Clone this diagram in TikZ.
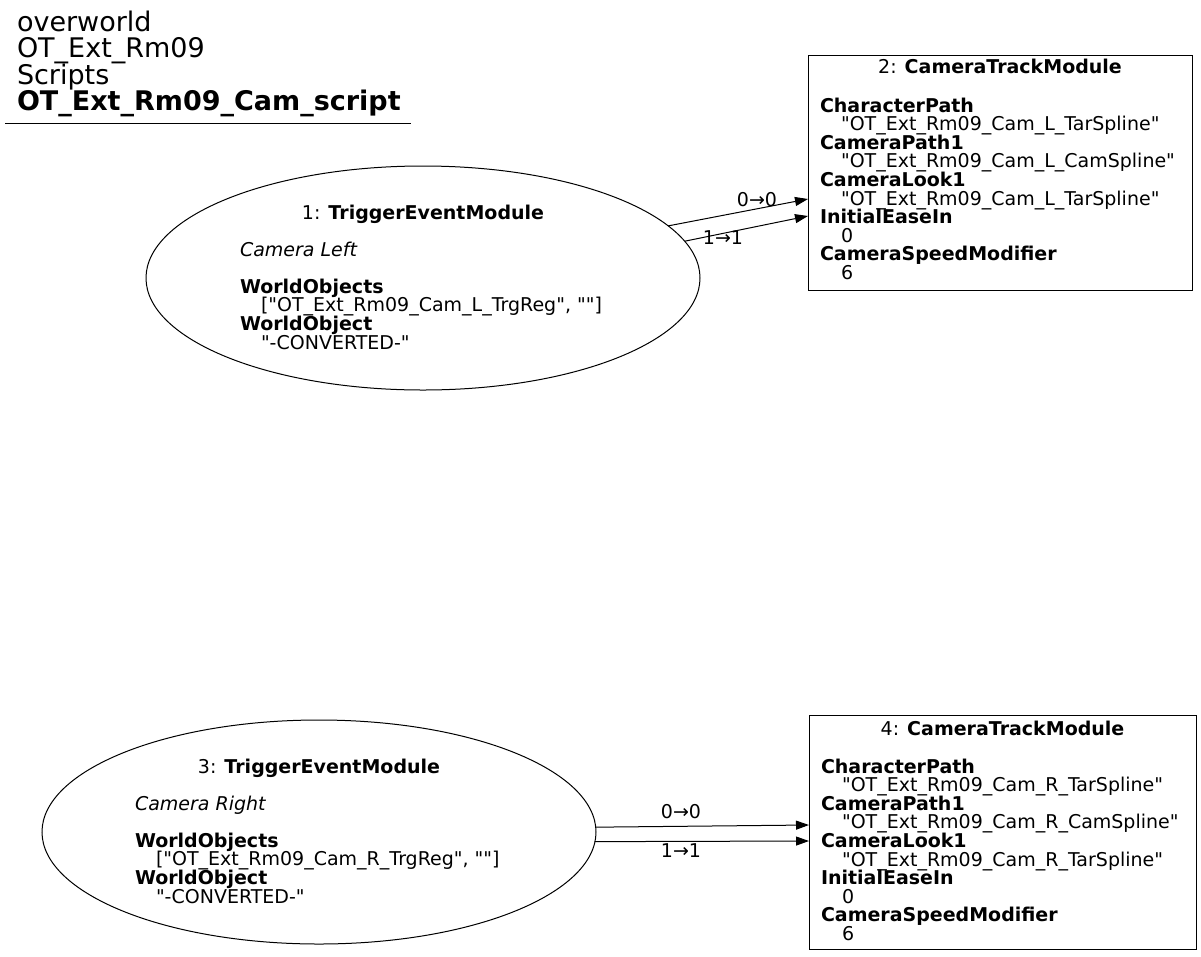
\documentclass[tikz,border=0pt]{standalone}
\usepackage{fontspec}
\setmainfont{DejaVu Sans}[Ligatures=TeXOff]
\usetikzlibrary{shapes.geometric,arrows.meta}
% indentation of a property value under its name
\newcommand{\ind}{\hspace*{21pt}}
% fixes the height of the first line of a text block
\newcommand{\topstrut}[1]{\rule{0pt}{#1}}
% keeps baselines evenly spaced
\newcommand{\tightlines}{\lineskiplimit=-30pt\relax}
\newcommand{\bodysize}{\fontsize{19}{18.6}\selectfont\tightlines}
\newcommand{\titlesize}{\fontsize{27}{26.5}\selectfont\tightlines}
\begin{document}
\begin{tikzpicture}[x=1pt,y=-1pt,
  every node/.style={inner sep=0pt,outer sep=0pt},
  bodyfont/.style={font=\bodysize},
  titlefont/.style={font=\titlesize},
  textblock/.style={bodyfont,align=left,anchor=north west},
  headline/.style={bodyfont,anchor=base},
  eventnode/.style={ellipse,draw,line width=1pt,minimum width=554pt,minimum height=224pt},
  trackbox/.style={rectangle,draw,line width=1pt},
  link/.style={line width=1pt,-{Triangle[length=13pt,width=9pt]}},
  linklabel/.style={bodyfont,anchor=base}
]
\fill[white] (0,0) rectangle (1201,956);
\useasboundingbox (0,0) rectangle (1201,956);

% graph title
\node[titlefont,align=left,anchor=north west] (title) at (17,10)
  {\topstrut{21pt}overworld\\OT\_Ext\_Rm09\\Scripts\\\textbf{OT\_Ext\_Rm09\_Cam\_script}};
\draw[line width=1pt] (5,123) -- (411,123);

% module shapes
\node[eventnode] (n1) at (423,278) {};
\node[trackbox,minimum width=384pt,minimum height=235pt] (n2) at (1000,172.5) {};
\node[eventnode] (n3) at (319,832) {};
\node[trackbox,minimum width=387pt,minimum height=234pt] (n4) at (1002.5,832) {};

% module 1
\node[headline] (h1) at (423,219) {1: \textbf{TriggerEventModule}};
\node[textblock] (t1) at (240,241)
  {\topstrut{15pt}\textit{Camera Left}\\[18.6pt]
   \textbf{WorldObjects}\\
   \ind["OT\_Ext\_Rm09\_Cam\_L\_TrgReg", ""]\\
   \textbf{WorldObject}\\
   \ind"-CONVERTED-"};

% module 2
\node[headline] (h2) at (1000,73) {2: \textbf{CameraTrackModule}};
\node[textblock] (t2) at (820,97)
  {\topstrut{15pt}\textbf{CharacterPath}\\
   \ind"OT\_Ext\_Rm09\_Cam\_L\_TarSpline"\\
   \textbf{CameraPath1}\\
   \ind"OT\_Ext\_Rm09\_Cam\_L\_CamSpline"\\
   \textbf{CameraLook1}\\
   \ind"OT\_Ext\_Rm09\_Cam\_L\_TarSpline"\\
   \textbf{InitialEaseIn}\\
   \ind 0\\
   \textbf{CameraSpeedModifier}\\
   \ind 6};

% module 3
\node[headline] (h3) at (319,773) {3: \textbf{TriggerEventModule}};
\node[textblock] (t3) at (135,795)
  {\topstrut{15pt}\textit{Camera Right}\\[18.6pt]
   \textbf{WorldObjects}\\
   \ind["OT\_Ext\_Rm09\_Cam\_R\_TrgReg", ""]\\
   \textbf{WorldObject}\\
   \ind"-CONVERTED-"};

% module 4
\node[headline] (h4) at (1002.5,735) {4: \textbf{CameraTrackModule}};
\node[textblock] (t4) at (821,758)
  {\topstrut{15pt}\textbf{CharacterPath}\\
   \ind"OT\_Ext\_Rm09\_Cam\_R\_TarSpline"\\
   \textbf{CameraPath1}\\
   \ind"OT\_Ext\_Rm09\_Cam\_R\_CamSpline"\\
   \textbf{CameraLook1}\\
   \ind"OT\_Ext\_Rm09\_Cam\_R\_TarSpline"\\
   \textbf{InitialEaseIn}\\
   \ind 0\\
   \textbf{CameraSpeedModifier}\\
   \ind 6};

% connections
\draw[link] (n1.12.5) -- ([yshift=-26.5pt]n2.west);
\draw[link] (n1.8.6) -- ([yshift=-43.5pt]n2.west);
\draw[link] (n3.1.65) -- ([yshift=7pt]n4.west);
\draw[link] (n3.-2.06) -- ([yshift=-9pt]n4.west);

\node[linklabel] (l1) at (757,206) {0→0};
\node[linklabel] (l2) at (723,244) {1→1};
\node[linklabel] (l3) at (681,818) {0→0};
\node[linklabel] (l4) at (681,857) {1→1};
\end{tikzpicture}
\end{document}
